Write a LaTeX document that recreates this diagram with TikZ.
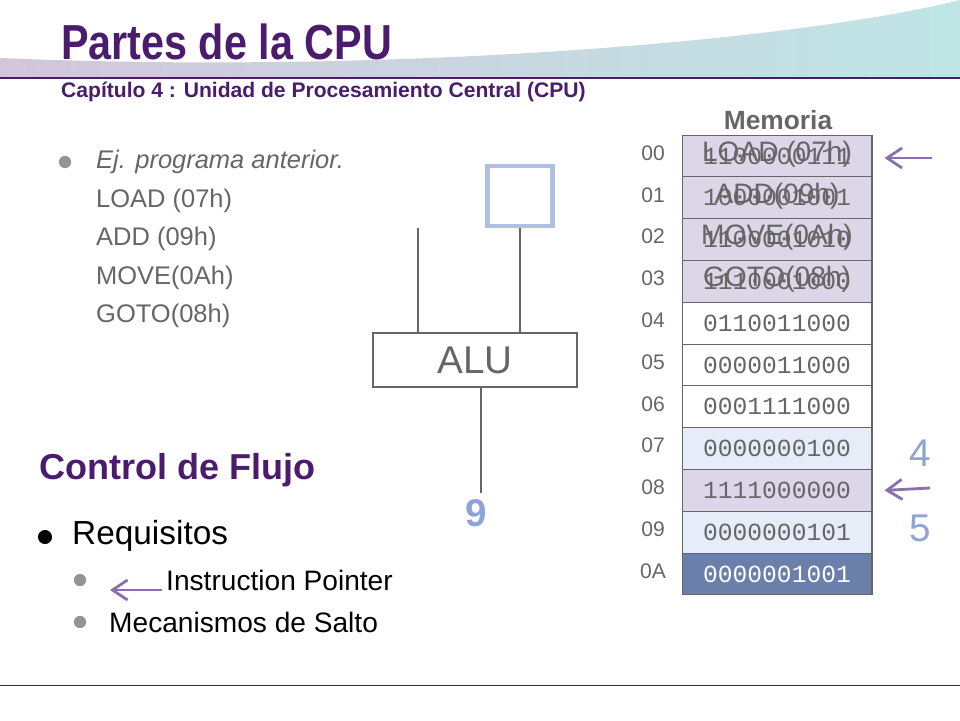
\documentclass[tikz,border=0pt]{standalone}
\usepackage{fontspec}
\setmainfont{Liberation Sans}
\setmonofont{Liberation Mono}
\usetikzlibrary{arrows.meta, calc}
\definecolor{titlepurple}{HTML}{4B1C6E}
\definecolor{arrowpurple}{HTML}{8A6FAE}
\definecolor{textgray}{HTML}{666666}
\definecolor{cellpurple}{HTML}{DDD5E8}
\definecolor{cellblue}{HTML}{E6ECF8}
\definecolor{celldark}{HTML}{6A7FAA}
\definecolor{numblue}{HTML}{8FA3D6}
\tikzset{
	memcell/.style={draw=textgray, line width=0.6pt, minimum width=3.8cm, minimum height=0.836cm, inner sep=0pt, font=\ttfamily\fontsize{14}{14}\selectfont, text=textgray},
	addrlabel/.style={font=\fontsize{12}{12}\selectfont, text=textgray},
	ptrarrow/.style={arrowpurple, line width=1.6pt, -{Straight Barb[length=3mm, width=4mm]}},
	wire/.style={textgray, line width=0.6pt}
}
\begin{document}
\begin{tikzpicture}[x=0.02cm, y=-0.02cm]
	\useasboundingbox (0,0) rectangle (960,720);
	% header band
	\shade [left color=titlepurple!25, right color=black!40!cyan!25] (0,58) .. controls (400,75) and (800,40) .. (960,0) -- (960,78) -- (0,78) -- cycle;
	\draw [titlepurple, line width=1pt] (0,78) -- (960,78);
	\draw [titlepurple, line width=0.5pt] (0,685) -- (960,685);
	\node [anchor=west, text=titlepurple, font=\bfseries\fontsize{28}{28}\selectfont, xscale=0.84] (title) at (56,42) {Partes de la CPU};
	\node [anchor=west, text=titlepurple, font=\bfseries\fontsize{12}{12}\selectfont] (subtitle) at (55,92) {Capítulo 4 : Unidad de Procesamiento Central (CPU)};
	
	% program listing
	\fill [textgray!70] (65,162) circle (3.5pt);
	\node [anchor=west, text=textgray, font=\itshape\fontsize{14.5}{14.5}\selectfont] (prog) at (90,162) {Ej. programa anterior.};
	\foreach \txt [count=\i] in {LOAD (07h), ADD (09h), MOVE(0Ah), GOTO(08h)}
		\node [anchor=west, text=textgray, font=\fontsize{14.5}{14.5}\selectfont] (ins\i) at (90,162+38.5*\i) {\txt};
	
	% control de flujo
	\node [anchor=west, text=titlepurple, font=\bfseries\fontsize{20.5}{20.5}\selectfont] (flujo) at (33,470) {Control de Flujo};
	\fill [black] (45,537) circle (4pt);
	\node [anchor=west, font=\fontsize{19}{19}\selectfont] (req) at (66,536) {Requisitos};
	\fill [textgray!70] (80,580) circle (3.5pt);
	\node [anchor=west, font=\fontsize{16}{16}\selectfont] (ip) at (160,580) {Instruction Pointer};
	\fill [textgray!70] (80,622) circle (3.5pt);
	\node [anchor=west, font=\fontsize{16}{16}\selectfont] (salto) at (103,622) {Mecanismos de Salto};
	\coordinate (ipA) at (162,590);
	\coordinate (ipB) at (110,590);
	\draw [ptrarrow] (ipA) -- (ipB);
	
	% ALU
	\node [draw=textgray, line width=0.6pt, minimum width=4.08cm, minimum height=1.08cm, text=textgray, font=\fontsize{22}{22}\selectfont] (alu) at (475,360) {ALU};
	\node [draw=numblue!70, line width=2.5pt, minimum width=1.3cm, minimum height=1.2cm] (reg) at (520,196) {};
	\coordinate (inA) at (418,228);
	\draw [wire] (inA) -- (inA |- alu.north);
	\draw [wire] (reg.south) -- (reg.south |- alu.north);
	\node [text=numblue, font=\bfseries\fontsize{22}{22}\selectfont] (res) at (476,513) {9};
	\draw [wire] (481,387) -- (res.north -| 481,0);
	
	% memoria
	\node [text=textgray, font=\bfseries\fontsize{15}{15}\selectfont] (memtitle) at (778,120) {Memoria};
	\foreach \addr/\val/\fillc/\txtc [count=\i from 0] in {00/1100000111/cellpurple/textgray, 01/1000001001/cellpurple/textgray, 02/1100001010/cellpurple/textgray, 03/1110001000/cellpurple/textgray, 04/0110011000/white/textgray, 05/0000011000/white/textgray, 06/0001111000/white/textgray, 07/0000000100/cellblue/textgray, 08/1111000000/cellpurple/textgray, 09/0000000101/cellblue/textgray, 0A/0000001001/celldark/white} {
		\node [memcell, fill=\fillc, text=\txtc] (m\i) at (777,156+41.8*\i) {\val};
		\node [addrlabel] (a\i) at (653,156+41.8*\i-3) {\addr};
	}
	\foreach \txt [count=\i from 0] in {LOAD (07h), ADD(09h), MOVE(0Ah), GOTO(08h)}
		\node [text=textgray, font=\fontsize{16}{16}\selectfont] at ($(m\i)+(0,-2)$) {\txt};
	
	% pointers
	\coordinate (p1) at (932,158);
	\coordinate (p2) at (930,488);
	\draw [ptrarrow] (p1) -- ($(m0.east)+(12,2)$);
	\draw [ptrarrow] (p2) -- ($(m8.east)+(12,0)$);
	\node [text=numblue, font=\fontsize{22}{22}\selectfont] (n4) at (920,453) {4};
	\node [text=numblue, font=\fontsize{22}{22}\selectfont] (n5) at (920,528) {5};
\end{tikzpicture}
\end{document}
